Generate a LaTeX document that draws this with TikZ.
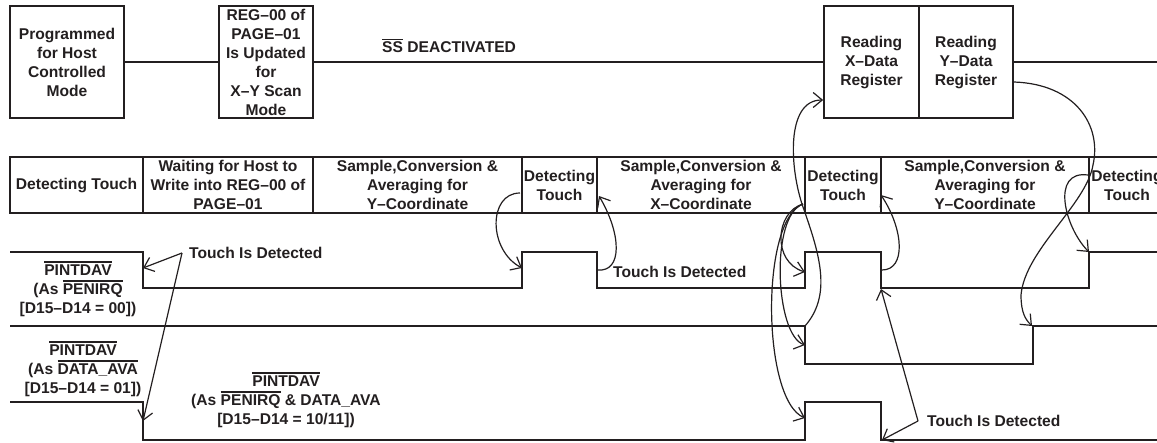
\documentclass[tikz,border=0pt]{standalone}
\usepackage{fontspec}
\setmainfont{Liberation Sans}
\usetikzlibrary{arrows.meta}
\definecolor{ink}{HTML}{231F20}
\newcommand{\ovbar}[1]{\leavevmode\vbox{\hrule height 1.3pt\kern 1.8pt\hbox{#1}}}

\begin{document}
\begin{tikzpicture}[x=1pt, y=-1pt,
    every node/.style={font=\fontsize{15.6}{19}\selectfont\bfseries, text=ink},
    box/.style={draw=ink, line width=1.8pt, align=center, inner sep=0pt, minimum height=112pt},
    cell/.style={draw=ink, line width=1.8pt, align=center, inner sep=0pt, minimum height=56pt},
    wire/.style={draw=ink, line width=1.8pt},
    arr/.style={draw=ink, line width=1.2pt, -{Straight Barb[length=9pt,width=15pt]}},
    lbl/.style={align=center, inner sep=0pt}]
    \useasboundingbox (0,0) rectangle (1157,442);

    % host side
    \node[box, minimum width=114pt] (prog) at (67,62) {Programmed\\for Host\\Controlled\\Mode};
    \node[box, minimum width=94pt] (reg) at (266,62) {REG--00 of\\PAGE--01\\Is Updated\\for\\X--Y Scan\\Mode};
    \node[box, minimum width=95pt] (readx) at (871.5,62) {Reading\\X--Data\\Register};
    \node[box, minimum width=94pt] (ready) at (966,62) {Reading\\Y--Data\\Register};
    \coordinate (topend) at (1157,62);
    \draw[wire] (prog) -- (reg) (reg) -- (readx) (ready) -- (topend);
    \node[anchor=base west, inner sep=0pt] (ssoff) at (382,52.5) {\ovbar{SS} DEACTIVATED};

    % device states
    \node[cell, minimum width=133pt] (c1) at (76.5,185) {Detecting Touch};
    \node[cell, minimum width=170pt] (c2) at (228,185) {Waiting for Host to\\Write into REG--00 of\\PAGE--01};
    \node[cell, minimum width=209pt] (c3) at (417.5,185) {Sample,Conversion \&\\Averaging for\\Y--Coordinate};
    \node[cell, minimum width=75pt] (c4) at (559.5,185) {Detecting\\Touch};
    \node[cell, minimum width=208pt] (c5) at (701,185) {Sample,Conversion \&\\Averaging for\\X--Coordinate};
    \node[cell, minimum width=76pt] (c6) at (843,185) {Detecting\\Touch};
    \node[cell, minimum width=208pt] (c7) at (985,185) {Sample,Conversion \&\\Averaging for\\Y--Coordinate};
    \node[cell, minimum width=76pt] (c8) at (1127,185) {Detecting\\Touch};

    % PINTDAV waveforms
    \draw[wire] (10,252) -- (143,252) -- (143,288) -- (522,288) -- (522,252) -- (597,252) --
      (597,288) -- (805,288) -- (805,252) -- (881,252) -- (881,288) -- (1089,288) --
      (1089,252) -- (1157,252);
    \draw[wire] (10,326) -- (805,326) -- (805,364) -- (1033,364) -- (1033,326) -- (1157,326);
    \draw[wire] (10,402) -- (143,402) -- (143,440) -- (805,440) -- (805,402) -- (881,402) --
      (881,440) -- (1157,440);

    \node[lbl] (pen) at (78,289) {\ovbar{PINTDAV}\\(As \ovbar{PENIRQ}\\{[}D15--D14 = 00{]})};
    \node[lbl] (dav) at (83,369) {\ovbar{PINTDAV}\\(As \ovbar{DATA\_AVA}\\{[}D15--D14 = 01{]})};
    \node[lbl] (both) at (286,400) {\ovbar{PINTDAV}\\(As \ovbar{PENIRQ} \& DATA\_AVA\\{[}D15--D14 = 10/11{]})};

    \node[anchor=west, inner xsep=7pt, inner ysep=0pt] (td1) at (182,253) {Touch Is Detected};
    \node[anchor=west, inner sep=0pt] (td2) at (613,272) {Touch Is Detected};
    \node[anchor=west, inner xsep=9pt, inner ysep=0pt] (td3) at (918,421) {Touch Is Detected};

    % arrow ends
    \coordinate (p1a) at (143,268);
    \coordinate (p3a) at (143,421);
    \coordinate (y1end) at (520,193);
    \coordinate (p1b) at (522,268);
    \coordinate (p1c) at (598,270);
    \coordinate (x1start) at (599,196);
    \coordinate (x1end) at (803,204);
    \coordinate (p1d) at (805,272);
    \coordinate (p2a) at (805,345);
    \coordinate (p3b) at (805,418);
    \coordinate (p2b) at (805,326);
    \coordinate (p1e) at (882,270);
    \coordinate (y2start) at (881,195);
    \coordinate (p1f) at (881,289);
    \coordinate (p3c) at (882,440);
    \coordinate (y2end) at (1088,175);
    \coordinate (p1g) at (1089,252);
    \coordinate (p2c) at (1032,326);

    \draw[arr] (td1.west) -- (p1a);
    \draw[arr] (td1.west) -- (p3a);
    \draw[arr] (y1end) .. controls (488,193) and (488,250) .. (p1b);
    \draw[arr] (p1c) .. controls (622,272) and (622,235) .. (x1start);
    \draw[arr] (x1end) .. controls (775,212) and (772,262) .. (p1d);
    \draw[arr] (x1end) .. controls (770,215) and (775,335) .. (p2a);
    \draw[arr] (x1end) .. controls (760,220) and (762,400) .. (p3b);
    \draw[arr] (p2b) .. controls (832,295) and (820,255) .. (803,207)
      .. controls (790,170) and (785,100) .. ([yshift=-38pt]readx.west);
    \draw[arr] (p1e) .. controls (906,270) and (904,230) .. (y2start);
    \draw[arr] (td3.west) -- (p1f);
    \draw[arr] (td3.west) -- (p3c);
    \draw[arr] (y2end) .. controls (1050,170) and (1065,228) .. (p1g);
    \draw[arr] ([yshift=-20pt]ready.east) .. controls (1075,84) and (1102,125) .. (1093,165)
      .. controls (1086,205) and (1025,250) .. (1021,295)
      .. controls (1021,312) and (1025,319) .. (p2c);
\end{tikzpicture}
\end{document}
